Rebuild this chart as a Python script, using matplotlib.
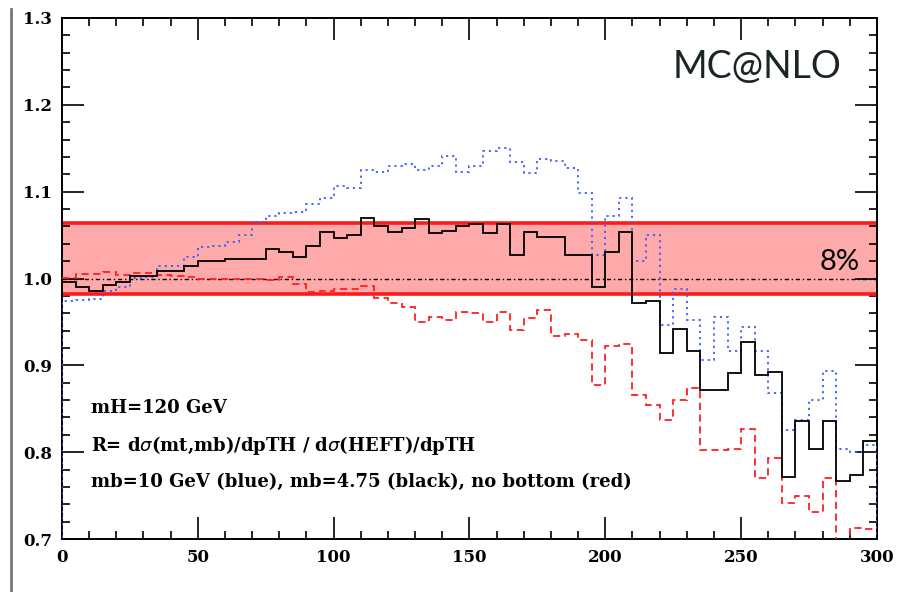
import numpy as np
import matplotlib.pyplot as plt
from matplotlib.lines import Line2D
from matplotlib.ticker import MultipleLocator

# bin edges: 5 GeV bins from 0 to 300
edges = np.arange(0, 305, 5)

# mb = 4.75 (black)
black = [0.996, 0.990, 0.986, 0.992, 0.996, 1.003, 1.003, 1.009, 1.009, 1.014,
         1.020, 1.020, 1.023, 1.022, 1.022, 1.034, 1.031, 1.025, 1.038, 1.054,
         1.047, 1.050, 1.070, 1.060, 1.054, 1.058, 1.068, 1.052, 1.055, 1.061,
         1.063, 1.052, 1.063, 1.027, 1.054, 1.048, 1.048, 1.027, 1.027, 0.990,
         1.031, 1.054, 0.972, 0.974, 0.914, 0.942, 0.916, 0.872, 0.872, 0.891,
         0.927, 0.889, 0.892, 0.771, 0.836, 0.804, 0.836, 0.767, 0.774, 0.813]

# mb = 10 GeV (blue)
blue = [0.974, 0.975, 0.976, 0.986, 0.990, 1.001, 1.002, 1.014, 1.014, 1.025,
        1.036, 1.037, 1.042, 1.050, 1.065, 1.072, 1.075, 1.077, 1.086, 1.093,
        1.107, 1.104, 1.125, 1.123, 1.129, 1.132, 1.125, 1.129, 1.141, 1.123,
        1.130, 1.147, 1.150, 1.134, 1.121, 1.138, 1.135, 1.127, 1.098, 1.027,
        1.072, 1.093, 1.020, 1.050, 0.947, 0.988, 0.952, 0.906, 0.956, 0.916,
        0.944, 0.916, 0.868, 0.825, 0.837, 0.860, 0.894, 0.804, 0.800, 0.808]

# no bottom (red)
red = [1.001, 1.005, 1.005, 1.007, 1.004, 1.006, 1.006, 1.004, 1.003, 1.002,
       1.000, 1.000, 1.000, 1.000, 0.999, 0.998, 1.002, 0.994, 0.985, 0.986,
       0.988, 0.988, 0.991, 0.977, 0.972, 0.967, 0.950, 0.956, 0.952, 0.962,
       0.960, 0.950, 0.962, 0.941, 0.954, 0.964, 0.934, 0.936, 0.929, 0.877,
       0.922, 0.925, 0.866, 0.854, 0.837, 0.860, 0.874, 0.802, 0.802, 0.804,
       0.827, 0.770, 0.793, 0.742, 0.750, 0.731, 0.770, 0.650, 0.713, 0.711]

band_lo, band_hi = 0.982, 1.064

fig = plt.figure(figsize=(8.97, 5.92), dpi=100)
ax = fig.add_axes([0.0691, 0.0895, 0.9086, 0.8801])

ax.axhspan(band_lo, band_hi, color='#ffaaaa', lw=0, zorder=1)
ax.axhline(band_lo, color='#ff1a1a', lw=2.6, zorder=2)
ax.axhline(band_hi, color='#ff1a1a', lw=2.6, zorder=2)
ax.axhline(1.0, color='black', lw=1.0, ls=(0, (3, 2, 1, 2)), zorder=3)

ax.stairs(red, edges, baseline=None, color='#ff2020', lw=1.3, ls=(0, (4, 2.5)), zorder=4)
ax.stairs(blue, edges, baseline=0, color='#3a5cff', lw=1.3, ls=(0, (1.2, 2.2)), zorder=5)
ax.stairs(black, edges, baseline=None, color='black', lw=1.3, zorder=6)

ax.set_xlim(0, 300)
ax.set_ylim(0.7, 1.3)
ax.xaxis.set_major_locator(MultipleLocator(50))
ax.xaxis.set_minor_locator(MultipleLocator(10))
ax.yaxis.set_major_locator(MultipleLocator(0.1))
ax.yaxis.set_minor_locator(MultipleLocator(0.02))
ax.tick_params(which='both', direction='in', top=True, right=True, width=1.2)
ax.tick_params(which='major', length=16, pad=7)
ax.tick_params(which='minor', length=6)
for s in ax.spines.values():
    s.set_linewidth(1.4)

tick_font = dict(family='DejaVu Serif', weight='bold', size=12)
ax.set_xticks(np.arange(0, 301, 50))
ax.set_xticklabels([str(v) for v in range(0, 301, 50)], **tick_font)
ax.set_yticks(np.round(np.arange(0.7, 1.31, 0.1), 1))
ax.set_yticklabels(['%.1f' % v for v in np.arange(0.7, 1.31, 0.1)], **tick_font)

txt = dict(family='DejaVu Serif', weight='bold', size=13, va='center',
           transform=ax.transAxes)
ax.text(0.036, 0.251, 'mH=120 GeV', **txt)
ax.text(0.036, 0.180, r'R= d$\sigma$(mt,mb)/dpTH / d$\sigma$(HEFT)/dpTH', **txt)
ax.text(0.036, 0.109, 'mb=10 GeV (blue), mb=4.75 (black), no bottom (red)', **txt)

ax.text(0.956, 0.905, 'MC@NLO', family='Lato', size=27, color='#1a2626',
        ha='right', va='center', transform=ax.transAxes, zorder=7)
ax.text(0.979, 0.532, '8%', family='Lato', size=21, color='black',
        ha='right', va='center', transform=ax.transAxes, zorder=7)

fig.add_artist(Line2D([0.012, 0.012], [0.0, 0.985], color='#777777', lw=2,
                      transform=fig.transFigure))

fig.savefig('out.png', dpi=100)
